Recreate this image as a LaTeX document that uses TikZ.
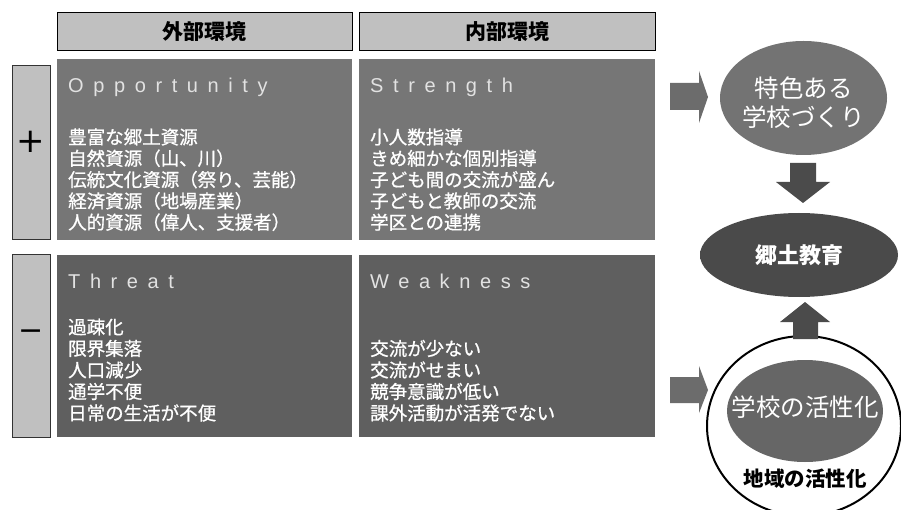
\documentclass[tikz,border=0pt]{standalone}
\usepackage{fontspec}
\setmainfont{Noto Sans CJK JP}
\newfontfamily\medfont[FakeBold=0.8]{Noto Sans CJK JP}
\newfontfamily\lsfont[LetterSpace=48]{Liberation Sans}
\newfontfamily\dvs{DejaVu Sans}
\usetikzlibrary{shapes.geometric}
\definecolor{hdrgray}{HTML}{C0C0C0}
\definecolor{upgray}{HTML}{767676}
\definecolor{lowgray}{HTML}{5F5F5F}
\definecolor{arrgray}{HTML}{6C6C6C}
\definecolor{darkarr}{HTML}{4B4B4B}
\definecolor{ellgray}{HTML}{737373}
\definecolor{kdark}{HTML}{4A4A4A}
\definecolor{krim}{HTML}{707070}
\definecolor{inngray}{HTML}{666666}
\definecolor{headtxt}{HTML}{E2E2E2}
\pgfdeclareradialshading{rimshade}{\pgfpoint{0bp}{0bp}}{color(0bp)=(kdark); color(38bp)=(kdark); color(48bp)=(krim); color(50bp)=(krim)}
\begin{document}
\begin{tikzpicture}[x=1pt,y=-1pt,
  hdr/.style={draw=black, line width=1pt, fill=hdrgray, inner sep=0pt, minimum height=38pt, font=\fontsize{21}{21}\selectfont\bfseries},
  side/.style={draw=black!80, line width=1pt, fill=hdrgray, inner sep=0pt, minimum width=38pt},
  quad/.style={inner sep=0pt, minimum width=295pt},
  lat/.style={anchor=base west, inner sep=0pt, text=headtxt, font=\lsfont\fontsize{20}{20}\selectfont},
  item/.style={anchor=west, inner sep=0pt, text=white, font=\medfont\fontsize{18.5}{18.5}\selectfont},
  ell/.style={ellipse, inner sep=0pt},
]
\useasboundingbox (0,0) rectangle (901,510);
\fill[white] (0,0) rectangle (901,510);

% headers
\node[hdr, minimum width=295pt] (hout) at (204.5,32) {外部環境};
\node[hdr, minimum width=296pt] (hin) at (507,32) {内部環境};

% quadrants
\node[quad, fill=upgray, minimum height=181pt] (opp) at (204.5,149.5) {};
\node[quad, fill=upgray, minimum width=296pt, minimum height=181pt] (str) at (507,149.5) {};
\node[quad, fill=lowgray, minimum height=182pt] (thr) at (204.5,346) {};
\node[quad, fill=lowgray, minimum width=296pt, minimum height=182pt] (wea) at (507,346) {};

% side boxes
\node[side, minimum height=174pt] (plus) at (31,153) {};
\node[side, minimum height=182pt] (minus) at (31,346) {};
\node[inner sep=0pt, font=\dvs\fontsize{34}{34}\selectfont] (plusg) at (31,142) {+};
\node[inner sep=0pt, font=\dvs\fontsize{30}{30}\selectfont] (minusg) at (31,335) {−};

% headings
\node[lat] (oppt) at (68,93) {Opportunity};
\node[lat] (strt) at (370,93) {Strength};
\node[lat] (thrt) at (68,288) {Threat};
\node[lat] (weat) at (370,288) {Weakness};

% items
\foreach \t [count=\i from 0] in {豊富な郷土資源,自然資源（山、川）,伝統文化資源（祭り、芸能）,経済資源（地場産業）,人的資源（偉人、支援者）}
  \node[item] (o\i) at (68,137+21.3*\i) {\t};
\foreach \t [count=\i from 0] in {小人数指導,きめ細かな個別指導,子ども間の交流が盛ん,子どもと教師の交流,学区との連携}
  \node[item] (s\i) at (370,137+21.3*\i) {\t};
\foreach \t [count=\i from 0] in {過疎化,限界集落,人口減少,通学不便,日常の生活が不便}
  \node[item] (t\i) at (68,327+21.5*\i) {\t};
\foreach \t [count=\i from 1] in {交流が少ない,交流がせまい,競争意識が低い,課外活動が活発でない}
  \node[item] (w\i) at (370,327+21.5*\i) {\t};

% block arrows
\fill[arrgray] (670,83) -- (699,83) -- (699,71) -- (708,97) -- (699,123) -- (699,110) -- (670,110) -- cycle;
\fill[arrgray] (670,377) -- (699,377) -- (699,366) -- (708,390) -- (699,413) -- (699,403) -- (670,403) -- cycle;
\fill[darkarr] (790,163) -- (816,163) -- (816,182) -- (830,182) -- (803,203) -- (776,182) -- (790,182) -- cycle;

% ellipses
\node[ell, fill=ellgray, minimum width=167pt, minimum height=114pt] (tok) at (803.5,98) {};
\node[inner sep=0pt, text=white, align=center, font=\fontsize{24.5}{29}\selectfont] (tokt) at (803.5,102.5) {特色ある\\学校づくり};

\node[ell, shading=rimshade, minimum width=198pt, minimum height=84pt, text=white, font=\fontsize{22}{22}\selectfont\bfseries] (kyo) at (799,255) {郷土教育};

\node[ell, draw=black, line width=2pt, fill=white, minimum width=194pt, minimum height=180pt] (chiiki) at (804,426) {};
\fill[darkarr] (793,339) -- (818,339) -- (818,322) -- (830,322) -- (805,302) -- (780,322) -- (793,322) -- cycle;
\node[ell, fill=inngray, minimum width=156pt, minimum height=102pt] (gakko) at (805,411) {};
\node[inner sep=0pt, text=white, font=\fontsize{24.5}{24.5}\selectfont] (gakkot) at (805,407) {学校の活性化};
\node[inner sep=0pt, font=\fontsize{20.5}{20.5}\selectfont\bfseries] (chiikit) at (805,479) {地域の活性化};
\end{tikzpicture}
\end{document}
